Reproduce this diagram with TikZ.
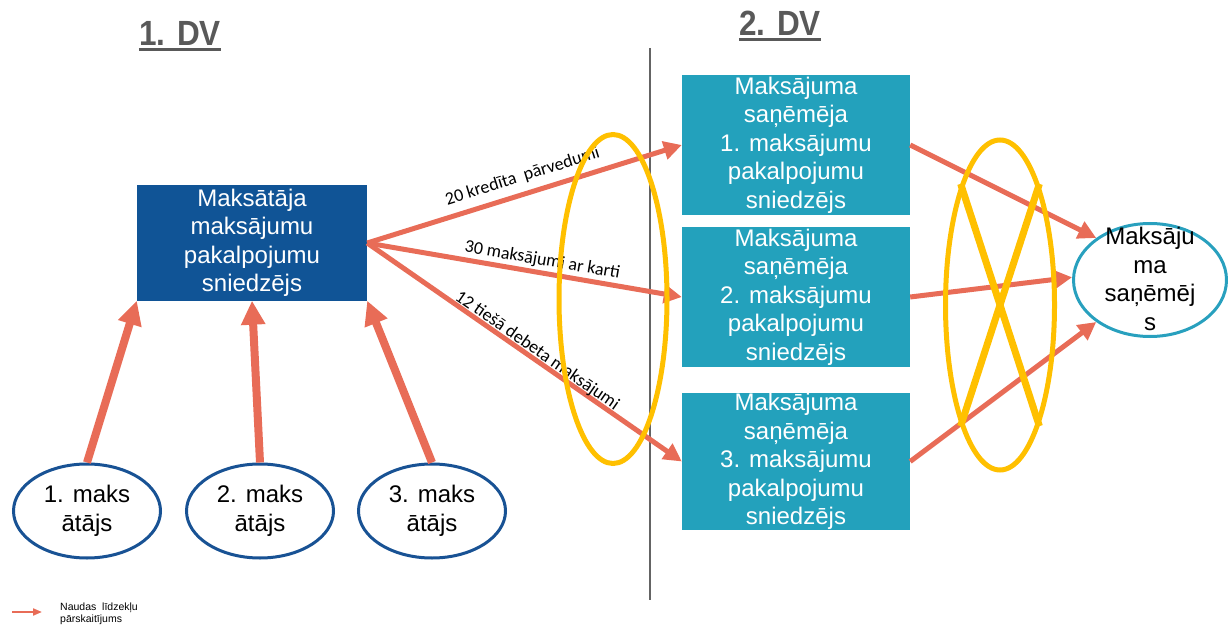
\documentclass[tikz,border=0pt]{standalone}
\usepackage{fontspec}
\setmainfont{Liberation Sans}
\newfontfamily\labelfont{Carlito}
\newfontfamily\titlefont[FakeStretch=0.9]{Liberation Sans}
\usetikzlibrary{arrows.meta,shapes.geometric,calc}

\definecolor{payblue}{RGB}{16,84,150}
\definecolor{ovalblue}{RGB}{24,82,148}
\definecolor{teal}{RGB}{35,161,188}
\definecolor{tealline}{RGB}{40,160,190}
\definecolor{salmon}{RGB}{232,108,87}
\definecolor{gold}{RGB}{255,192,0}
\definecolor{titlegray}{RGB}{89,89,89}
\definecolor{divider}{RGB}{100,100,100}

\tikzset{
  bodytext/.style={font=\fontsize{24pt}{28.5pt}\selectfont, align=center},
  payerbox/.style={bodytext, rectangle, fill=payblue, text=white,
    minimum width=230pt, minimum height=115pt, inner sep=0pt},
  pspbox/.style={bodytext, rectangle, fill=teal, text=white,
    minimum width=228pt, minimum height=140pt, inner sep=0pt},
  payeroval/.style={bodytext, ellipse, draw=ovalblue, line width=3pt,
    minimum width=147pt, minimum height=94pt, inner sep=0pt},
  recoval/.style={ellipse, draw=tealline, line width=3pt,
    minimum width=153pt, minimum height=113pt, inner sep=0pt},
  ring/.style={ellipse, draw=gold, line width=5pt, inner sep=0pt},
  fatflow/.style={draw=salmon, line width=8pt,
    -{Triangle[length=24pt,width=23pt]}},
  flow/.style={draw=salmon, line width=5pt,
    -{Triangle[length=18pt,width=18pt]}},
  legendflow/.style={draw=salmon, line width=2pt,
    -{Triangle[length=9pt,width=7pt]}},
  lbl/.style={font=\labelfont\fontsize{18pt}{20pt}\selectfont, sloped, inner sep=1pt},
  heading/.style={font=\titlefont\bfseries\fontsize{35pt}{40pt}\selectfont,
    text=titlegray, inner sep=0pt, anchor=base},
  headline/.style={draw=titlegray, line width=3pt},
}

\begin{document}
\begin{tikzpicture}[x=1pt,y=-1pt]
\useasboundingbox (0,0) rectangle (1228,628);

% section headings
\node[heading] (t1) at (180,46) {1. DV};
\draw[headline] ([yshift=-4pt]t1.base west) -- ([yshift=-4pt]t1.base east);
\node[heading] (t2) at (780,36) {2. DV};
\draw[headline] ([yshift=-4pt]t2.base west) -- ([yshift=-4pt]t2.base east);

% divider between the two sides
\coordinate (dtop) at (650,48);
\coordinate (dbot) at (650,600);
\draw[divider, line width=2pt] (dtop) -- (dbot);

% payer side
\node[payerbox] (pay) at (252,243) {Maksātāja\\maksājumu\\pakalpojumu\\sniedzējs};
\node[payeroval] (e1) at (87,511) {1. maks\\ātājs};
\node[payeroval] (e2) at (260,511) {2. maks\\ātājs};
\node[payeroval] (e3) at (432,511) {3. maks\\ātājs};

% payee side
\node[pspbox] (b1) at (796,145) {Maksājuma\\saņēmēja\\1. maksājumu\\pakalpojumu\\sniedzējs};
\node[pspbox] (b2) at (796,297) {Maksājuma\\saņēmēja\\2. maksājumu\\pakalpojumu\\sniedzējs};
\node[pspbox, minimum height=137pt] (b3) at (796,461.5) {Maksājuma\\saņēmēja\\3. maksājumu\\pakalpojumu\\sniedzējs};
\node[recoval] (rec) at (1150,280) {};
\node[bodytext, inner sep=0pt] (rectext) at (1150,279) {Maksāju\\ma\\saņēmēj\\s};

% payers to their provider
\draw[fatflow] (e1.north) -- (pay.south west);
\draw[fatflow] (e2.north) -- (pay.south);
\draw[fatflow] (e3.north) -- (pay.south east);

% provider to payee providers
\draw[flow] (pay.east) -- node[lbl, pos=.51, above=6pt] {20 kredīta\ \ pārvedumi} (b1.west);
\draw[flow] (pay.east) -- node[lbl, pos=.55, above=1pt] {30 maksājumi ar karti} (b2.west);
\draw[flow] (pay.east) -- node[lbl, pos=.525, above=-3pt] {12 tiešā debeta maksājumi} (b3.west);

% payee providers to payee
\draw[flow] (b1.east) -- (rec.142);
\draw[flow] (b2.east) -- (rec.178);
\draw[flow] (b3.east) -- (rec.218);

% highlight rings
\node[ring, minimum width=108pt, minimum height=329pt] (r1) at (613,299) {};
\node[ring, minimum width=109pt, minimum height=330pt] (r2) at (1000,305) {};
\draw[gold, line width=7pt] (r2.108) -- (r2.288);
\draw[gold, line width=7pt] (r2.72) -- (r2.252);

% legend
\coordinate (la) at (12,612);
\coordinate (lb) at (42,612);
\draw[legendflow] (la) -- (lb);
\node[font=\fontsize{10.5pt}{12pt}\selectfont, align=left, anchor=north west, inner sep=0pt]
  (leg) at (60,603) {Naudas\ \ līdzekļu\\pārskaitījums};
\end{tikzpicture}
\end{document}
